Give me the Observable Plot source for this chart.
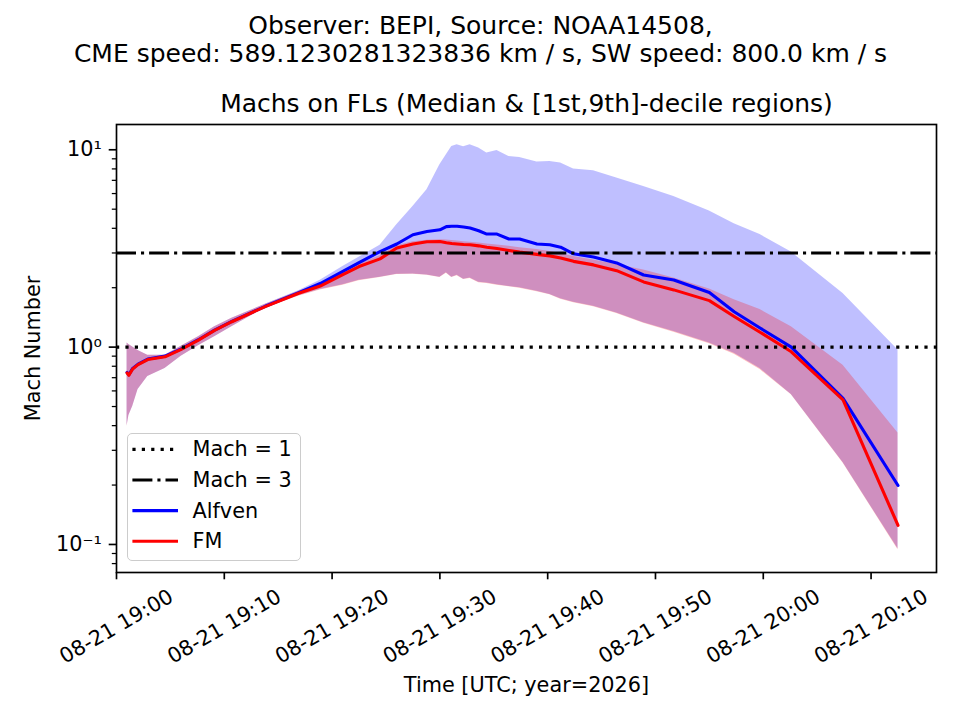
<!DOCTYPE html>
<html><head><meta charset="utf-8">
<script src="https://cdn.jsdelivr.net/npm/d3@7"></script>
<script src="https://cdn.jsdelivr.net/npm/@observablehq/plot@0.6"></script>
<style>
body{margin:0;background:#fff;}
#wrap{position:relative;width:960px;height:720px;font-family:"DejaVu Sans";}
#legend{position:absolute;left:127px;top:433px;width:174px;height:128px;border:1.6px solid #cccccc;border-radius:5px;background:rgba(255,255,255,0.8);box-sizing:border-box;}
</style></head><body><div id="wrap"></div>
<script>
// Minutes after 2026-08-21 19:00 UTC
const minutes = [0.98,1.15,1.5,2.0,2.9,4.5,6.0,7.6,9.1,10.7,13.8,16.9,18.9,21.0,22.5,24.45,26.0,27.5,28.8,30.0,30.6,31.1,31.6,32.2,32.8,33.6,34.35,35.3,36.4,37.4,39.0,40.2,41.2,42.4,44.25,46.4,48.9,51.7,55.0,57.3,59.7,62.6,67.4,72.5];
const alfvenMedian = [0.745,0.725,0.78,0.82,0.87,0.90,0.98,1.09,1.22,1.35,1.61,1.89,2.10,2.42,2.68,3.05,3.33,3.71,3.85,3.93,4.08,4.10,4.10,4.06,4.01,3.89,3.74,3.74,3.53,3.53,3.33,3.30,3.21,2.97,2.86,2.67,2.32,2.19,1.89,1.51,1.25,1.00,0.55,0.199];
const fmMedian = [0.740,0.720,0.775,0.815,0.865,0.893,0.975,1.085,1.215,1.345,1.605,1.875,2.04,2.33,2.56,2.80,3.18,3.33,3.42,3.43,3.38,3.35,3.33,3.31,3.30,3.26,3.21,3.16,3.09,3.03,2.95,2.90,2.83,2.72,2.61,2.44,2.14,1.95,1.72,1.43,1.19,0.947,0.54,0.125];
const alfvenHigh = [1.05,1.03,1.00,0.96,0.91,0.91,1.01,1.13,1.27,1.40,1.65,1.93,2.18,2.56,2.85,3.28,4.17,5.16,6.27,8.40,9.43,10.4,10.6,10.36,10.6,10.2,9.62,9.92,9.25,9.14,8.66,8.72,8.56,7.98,7.83,7.19,6.52,5.80,4.90,4.22,3.72,3.03,1.87,0.966];
const fmHigh = [1.05,1.03,1.00,0.96,0.91,0.91,1.01,1.13,1.27,1.40,1.65,1.92,2.10,2.40,2.64,2.90,3.26,3.42,3.48,3.50,3.49,3.47,3.45,3.42,3.40,3.37,3.33,3.29,3.24,3.19,3.12,3.05,2.98,2.88,2.76,2.62,2.46,2.24,1.97,1.74,1.55,1.27,0.81,0.367];
const alfvenLow = [0.40,0.45,0.50,0.61,0.71,0.78,0.90,1.015,1.13,1.27,1.58,1.82,1.96,2.07,2.18,2.26,2.34,2.35,2.32,2.26,2.38,2.26,2.31,2.21,2.24,2.13,2.11,2.07,2.03,2.00,1.92,1.85,1.76,1.69,1.61,1.49,1.33,1.20,1.05,0.93,0.78,0.575,0.26,0.095];
const fmLow = [0.396,0.45,0.50,0.61,0.71,0.78,0.90,1.015,1.13,1.27,1.58,1.81,1.95,2.06,2.17,2.25,2.33,2.34,2.31,2.25,2.37,2.25,2.30,2.20,2.23,2.12,2.10,2.06,2.02,1.99,1.91,1.84,1.75,1.68,1.60,1.48,1.32,1.19,1.04,0.92,0.77,0.573,0.259,0.094];

const machLevels = [1, 3];
const xTickMinutes = [0,10,20,30,40,50,60,70];
const yMajorTicks = [0.1, 1, 10];
const yMajorLabels = ["10⁻¹", "10⁰", "10¹"];
const yMinorTicks = [0.08,0.09,0.2,0.3,0.4,0.5,0.6,0.7,0.8,0.9,2,3,4,5,6,7,8,9];
const legendLabels = ["Mach = 1", "Mach = 3", "Alfven", "FM"];
const supTitle1 = "Observer: BEPI, Source: NOAA14508,";
const supTitle2 = "CME speed: 589.1230281323836 km / s, SW speed: 800.0 km / s";
const axTitle = "Machs on FLs (Median & [1st,9th]-decile regions)";
const xLabel = "Time [UTC; year=2026]";
const yLabel = "Mach Number";

const T0 = Date.UTC(2026, 7, 21, 19, 0, 0);
const toDate = m => new Date(T0 + m * 60000);
const data = minutes.map((m, i) => ({
  date: toDate(m), aMed: alfvenMedian[i], fMed: fmMedian[i],
  aHi: alfvenHigh[i], aLo: alfvenLow[i], fHi: fmHigh[i], fLo: fmLow[i]
}));
const xTicks = xTickMinutes.map(toDate);
const fmt = d3.utcFormat("%m-%d %H:%M");
const yLab = new Map(yMajorTicks.map((v, i) => [v, yMajorLabels[i]]));
const F = 20.8;

const chart = Plot.plot({
  width: 960, height: 720,
  marginLeft: 116, marginRight: 24, marginTop: 124, marginBottom: 148,
  style: {fontFamily: "DejaVu Sans", fontSize: F + "px", background: "white", color: "black", overflow: "visible"},
  x: {type: "utc", domain: [toDate(0), toDate(76.07)]},
  y: {type: "log", domain: [0.0721, 13.43]},
  marks: [
    Plot.areaY(data, {x: "date", y1: "aLo", y2: "aHi", fill: "blue", fillOpacity: 0.25}),
    Plot.areaY(data, {x: "date", y1: "fLo", y2: "fHi", fill: "red", fillOpacity: 0.25}),
    Plot.lineY(data, {x: "date", y: "aMed", stroke: "blue", strokeWidth: 3.1}),
    Plot.lineY(data, {x: "date", y: "fMed", stroke: "red", strokeWidth: 3.1}),
    Plot.ruleY([machLevels[0]], {stroke: "black", strokeWidth: 3.1, strokeDasharray: "3.2,6.2"}),
    Plot.ruleY([machLevels[1]], {stroke: "black", strokeWidth: 3.1, strokeDasharray: "20,5,3.1,5"}),
    Plot.frame({stroke: "black", strokeWidth: 1.67}),
    Plot.axisY({ticks: yMinorTicks, tickSize: 4.2, strokeWidth: 1.25, tickFormat: () => "", label: null}),
    Plot.axisY({ticks: yMajorTicks, tickSize: 7.3, tickPadding: 7.3, strokeWidth: 1.67, tickFormat: d => yLab.get(d), fontSize: F, label: null}),
    Plot.axisX({ticks: xTicks, tickSize: 7.3, strokeWidth: 1.67, tickFormat: () => "", label: null}),
    Plot.text(xTicks, {x: d => d, text: d => fmt(d), frameAnchor: "bottom", dy: 54, rotate: -30, textAnchor: "middle", lineAnchor: "middle", fontSize: F}),
    Plot.text([xLabel], {text: d => d, frameAnchor: "bottom", dy: 113, textAnchor: "middle", lineAnchor: "middle", fontSize: F}),
    Plot.text([yLabel], {text: d => d, frameAnchor: "left", dx: -83, rotate: -90, textAnchor: "middle", lineAnchor: "middle", fontSize: F}),
    Plot.text([axTitle], {text: d => d, frameAnchor: "top", dy: -21, textAnchor: "middle", lineAnchor: "middle", fontSize: 25}),
    Plot.text([supTitle1], {text: d => d, frameAnchor: "top", dx: -46, dy: -99, textAnchor: "middle", lineAnchor: "middle", fontSize: 25}),
    Plot.text([supTitle2], {text: d => d, frameAnchor: "top", dx: -46, dy: -71, textAnchor: "middle", lineAnchor: "middle", fontSize: 25})
  ]
});
const wrap = document.getElementById("wrap");
wrap.appendChild(chart);

// Legend
const legendStyles = [
  {color: "black", dash: "3.2,6.2"},
  {color: "black", dash: "20,5,3.1,5"},
  {color: "blue", dash: null},
  {color: "red", dash: null}
];
const leg = d3.select(wrap).append("div").attr("id", "legend");
const ls = leg.append("svg").attr("width", 171).attr("height", 125)
  .style("position", "absolute").style("left", "0px").style("top", "0px");
legendLabels.forEach((lab, i) => {
  const y = 15.4 + i * 30.6;
  const st = legendStyles[i];
  const ln = ls.append("line").attr("x1", 4.4).attr("x2", 50).attr("y1", y).attr("y2", y)
    .attr("stroke", st.color).attr("stroke-width", 3.1);
  if (st.dash) ln.attr("stroke-dasharray", st.dash);
  ls.append("text").attr("x", 64.5).attr("y", y).attr("dominant-baseline", "central")
    .style("font-family", "DejaVu Sans").style("font-size", F + "px").attr("fill", "black").text(lab);
});
</script>
</body></html>
